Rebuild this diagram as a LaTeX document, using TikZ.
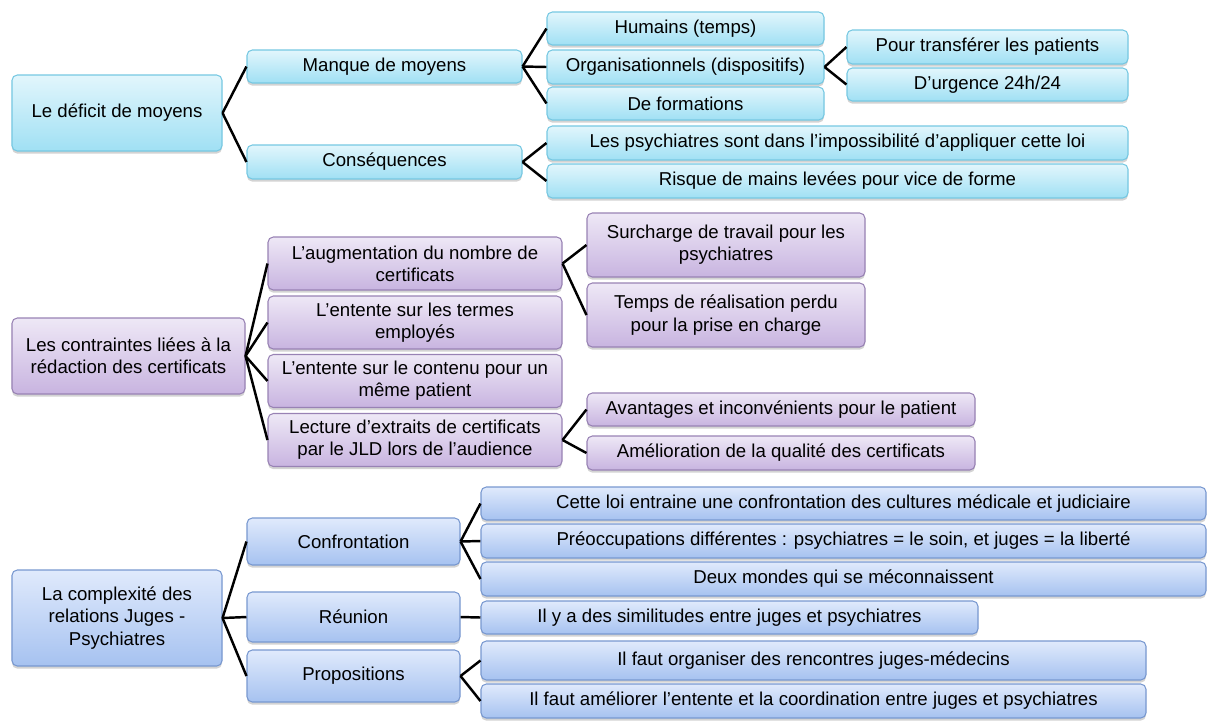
\documentclass[tikz,border=0pt]{standalone}
\usepackage{fontspec}
\setmainfont{Liberation Sans}
\usetikzlibrary{shadows}
\definecolor{CyanTop}{RGB}{226,246,252}
\definecolor{CyanBot}{RGB}{160,224,244}
\definecolor{CyanLine}{RGB}{118,200,226}
\definecolor{MauveTop}{RGB}{238,232,246}
\definecolor{MauveBot}{RGB}{200,180,224}
\definecolor{MauveLine}{RGB}{152,130,180}
\definecolor{BlueTop}{RGB}{224,234,252}
\definecolor{BlueBot}{RGB}{166,194,240}
\definecolor{BlueLine}{RGB}{120,152,208}
\begin{document}
\begin{tikzpicture}[x=0.2mm,y=-0.2mm,
  box/.style={rounded corners=3pt,line width=.6pt,align=center,inner sep=1pt,
    font=\fontsize{10.6}{12.6}\selectfont,
    drop shadow={opacity=.35,shadow xshift=0pt,shadow yshift=-1.5pt}},
  deficit/.style={box,draw=CyanLine,top color=CyanTop,bottom color=CyanBot},
  contrainte/.style={box,draw=MauveLine,top color=MauveTop,bottom color=MauveBot},
  relation/.style={box,draw=BlueLine,top color=BlueTop,bottom color=BlueBot},
  link/.style={line width=1.4pt,black}]
\useasboundingbox (0,0) rectangle (1208,722);
% le deficit de moyens
\node[deficit,minimum width=4.2cm,minimum height=1.52cm] (def) at (117,113) {Le déficit de moyens};
\node[deficit,minimum width=5.5cm,minimum height=.66cm] (manque) at (384.5,66.5) {Manque de moyens};
\node[deficit,minimum width=5.5cm,minimum height=.68cm] (consq) at (384.5,162) {Conséquences};
\node[deficit,minimum width=5.54cm,minimum height=.66cm] (humains) at (685.5,28.5) {Humains (temps)};
\node[deficit,minimum width=5.54cm,minimum height=.68cm] (organ) at (685.5,67) {Organisationnels (dispositifs)};
\node[deficit,minimum width=5.54cm,minimum height=.66cm] (format) at (685.5,103.5) {De formations};
\node[deficit,minimum width=5.62cm,minimum height=.68cm] (transf) at (987.5,47) {Pour transférer les patients};
\node[deficit,minimum width=5.62cm,minimum height=.66cm] (urgence) at (987.5,84.5) {D’urgence 24h/24};
\node[deficit,minimum width=11.62cm,minimum height=.68cm] (impos) at (837.5,143) {Les psychiatres sont dans l’impossibilité d’appliquer cette loi};
\node[deficit,minimum width=11.62cm,minimum height=.68cm] (risque) at (837.5,181) {Risque de mains levées pour vice de forme};
\draw[link] (def.east) -- (manque.west);
\draw[link] (def.east) -- (consq.west);
\foreach \n in {humains,organ,format} \draw[link] (manque.east) -- (\n.west);
\foreach \n in {transf,urgence} \draw[link] (organ.east) -- (\n.west);
\foreach \n in {impos,risque} \draw[link] (consq.east) -- (\n.west);
% les contraintes
\node[contrainte,minimum width=4.66cm,minimum height=1.52cm] (contr) at (128.5,356) {Les contraintes liées à la\\rédaction des certificats};
\node[contrainte,minimum width=5.88cm,minimum height=1.06cm] (augm) at (415,263.5) {L’augmentation du nombre de\\certificats};
\node[contrainte,minimum width=5.88cm,minimum height=1.06cm] (termes) at (415,322.5) {L’entente sur les termes\\employés};
\node[contrainte,minimum width=5.88cm,minimum height=1.06cm] (contenu) at (415,381) {L’entente sur le contenu pour un\\même patient};
\node[contrainte,minimum width=5.88cm,minimum height=1.06cm] (lecture) at (415,440) {Lecture d’extraits de certificats\\par le JLD lors de l’audience};
\node[contrainte,minimum width=5.56cm,minimum height=1.28cm] (surch) at (726,245) {Surcharge de travail pour les\\psychiatres};
\node[contrainte,minimum width=5.56cm,minimum height=1.28cm] (temps) at (726,315) {Temps de réalisation perdu\\pour la prise en charge};
\node[contrainte,minimum width=7.76cm,minimum height=.66cm] (avant) at (781,409.5) {Avantages et inconvénients pour le patient};
\node[contrainte,minimum width=7.76cm,minimum height=.68cm] (qualite) at (781,453) {Amélioration de la qualité des certificats};
\foreach \n in {augm,termes,contenu,lecture} \draw[link] (contr.east) -- (\n.west);
\foreach \n in {surch,temps} \draw[link] (augm.east) -- (\n.west);
\foreach \n in {avant,qualite} \draw[link] (lecture.east) -- (\n.west);
% la complexite des relations
\node[relation,minimum width=4.2cm,minimum height=1.92cm] (compl) at (117,618) {La complexité des\\relations Juges -\\Psychiatres};
\node[relation,minimum width=4.26cm,minimum height=.94cm] (confr) at (353.5,541.5) {Confrontation};
\node[relation,minimum width=4.26cm,minimum height=1cm] (reun) at (353.5,617) {Réunion};
\node[relation,minimum width=4.26cm,minimum height=1.04cm] (propo) at (353.5,676) {Propositions};
\node[relation,minimum width=14.5cm,minimum height=.66cm] (cette) at (843.5,503.5) {Cette loi entraine une confrontation des cultures médicale et judiciaire};
\node[relation,minimum width=14.5cm,minimum height=.68cm] (preoc) at (843.5,541) {Préoccupations différentes : psychiatres = le soin, et juges = la liberté};
\node[relation,minimum width=14.5cm,minimum height=.68cm] (deux) at (843.5,579) {Deux mondes qui se méconnaissent};
\node[relation,minimum width=9.94cm,minimum height=.66cm] (simil) at (729.5,617.5) {Il y a des similitudes entre juges et psychiatres};
\node[relation,minimum width=13.3cm,minimum height=.78cm] (rencontre) at (813.5,660.5) {Il faut organiser des rencontres juges-médecins};
\node[relation,minimum width=13.3cm,minimum height=.68cm] (coord) at (813.5,701) {Il faut améliorer l’entente et la coordination entre juges et psychiatres};
\foreach \n in {confr,reun,propo} \draw[link] (compl.east) -- (\n.west);
\foreach \n in {cette,preoc,deux} \draw[link] (confr.east) -- (\n.west);
\draw[link] (reun.east) -- (simil.west);
\foreach \n in {rencontre,coord} \draw[link] (propo.east) -- (\n.west);
\end{tikzpicture}
\end{document}
